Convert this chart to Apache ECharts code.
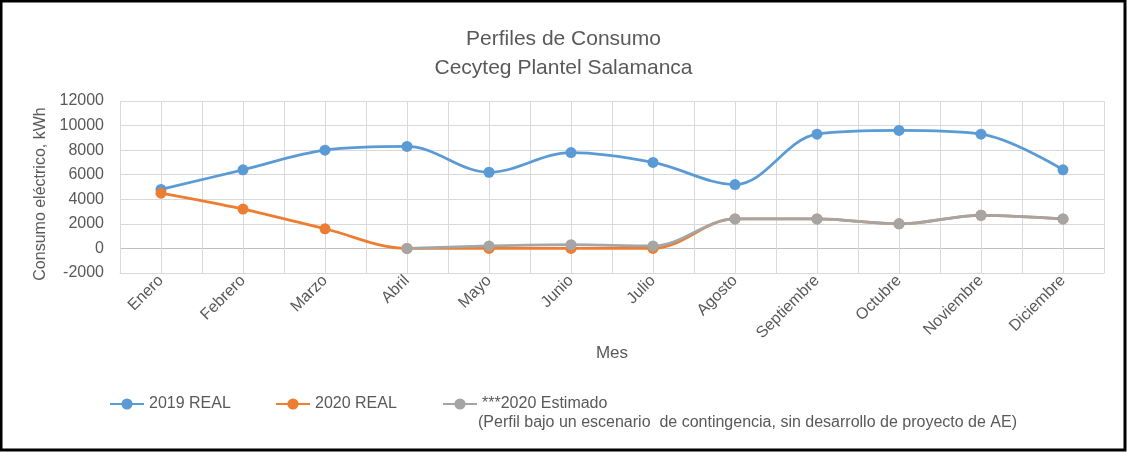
<!DOCTYPE html>
<html>
<head>
<meta charset="utf-8">
<script src="https://cdn.jsdelivr.net/npm/echarts@6/dist/echarts.min.js"></script>
<style>
  html, body { margin: 0; padding: 0; background: #fff; }
  #chart { width: 1127px; height: 452px; }
</style>
</head>
<body>
<div id="chart"></div>
<script>
var meses = ['Enero', 'Febrero', 'Marzo', 'Abril', 'Mayo', 'Junio', 'Julio', 'Agosto',
    'Septiembre', 'Octubre', 'Noviembre', 'Diciembre'];
var real2019 = [4800, 6400, 8000, 8300, 6200, 7800, 7000, 5200, 9300, 9600, 9300, 6400];
var real2020 = [4500, 3200, 1600, 0, 0, 0, 0, 2400, 2400, 2000, 2700, 2400];
var estimado2020 = [null, null, null, 0, 200, 300, 200, 2400, 2400, 2000, 2700, 2400];
var yTicks = { min: -2000, max: 12000, interval: 2000 };

var fuente = 'Liberation Sans';
var gris = '#595959';

// half-category grid lines (Excel draws lines at boundaries and at centres)
var halfCats = [];
for (var i = 0; i < meses.length * 2; i++) halfCats.push('');

var mkSerie = function(name, color, data) {
    return {
        name: name,
        type: 'line',
        smooth: 0.35,
        symbol: 'circle',
        symbolSize: 11,
        itemStyle: { color: color },
        lineStyle: { color: color, width: 2.75 },
        data: data
    };
};

var option = {
    animation: false,
    textStyle: { fontFamily: fuente },
    title: {
        left: 'center',
        top: 20,
        text: 'Perfiles de Consumo\nCecyteg Plantel Salamanca',
        textStyle: {
            fontFamily: fuente,
            fontSize: 21,
            fontWeight: 'normal',
            lineHeight: 29,
            color: gris
        }
    },
    grid: { left: 120, right: 23, top: 101, bottom: 179 },
    legend: [
        { data: ['2019 REAL'], left: 104, top: 391 },
        { data: ['2020 REAL'], left: 270, top: 391 },
        { data: ['***2020 Estimado'], left: 437, top: 391 }
    ].map(function(l) {
        l.itemWidth = 34;
        l.itemHeight = 14;
        l.itemGap = 8;
        l.textStyle = { fontFamily: fuente, fontSize: 16, color: gris };
        return l;
    }),
    graphic: [
        {
            type: 'text',
            left: 478,
            top: 415,
            style: {
                text: '(Perfil bajo un escenario  de contingencia, sin desarrollo de proyecto de AE)',
                font: '16px "' + fuente + '"',
                fill: gris
            }
        },
        {
            type: 'rect',
            shape: { x: 1, y: 1, width: 1124, height: 449 },
            style: { fill: 'none', stroke: '#000', lineWidth: 3 },
            silent: true
        }
    ],
    xAxis: [
        {
            type: 'category',
            data: meses,
            boundaryGap: true,
            name: 'Mes',
            nameLocation: 'middle',
            nameGap: 67,
            nameTextStyle: { fontFamily: fuente, fontSize: 17, color: gris },
            axisLine: { onZero: false, lineStyle: { color: '#d9d9d9', width: 1 } },
            axisTick: { show: false },
            splitLine: { show: false },
            axisLabel: { rotate: 45, fontSize: 16, color: gris, margin: 5, interval: 0 }
        },
        {
            type: 'category',
            data: halfCats,
            position: 'bottom',
            boundaryGap: true,
            axisLine: { show: false },
            axisTick: { show: false },
            axisLabel: { show: false },
            splitLine: { show: true, interval: 0, lineStyle: { color: '#d9d9d9', width: 1 } }
        }
    ],
    yAxis: {
        type: 'value',
        min: yTicks.min,
        max: yTicks.max,
        interval: yTicks.interval,
        name: 'Consumo eléctrico, kWh',
        nameLocation: 'middle',
        nameGap: 63,
        nameTextStyle: { fontFamily: fuente, fontSize: 16, color: gris, padding: [0, 14, 0, 0] },
        axisLine: { show: false },
        axisTick: { show: false },
        axisLabel: {
            fontSize: 16,
            color: gris,
            margin: 16,
            formatter: function(v) { return String(v); }
        },
        splitLine: {
            lineStyle: {
                width: 1,
                color: ['#d9d9d9', '#bfbfbf', '#d9d9d9', '#d9d9d9', '#d9d9d9', '#d9d9d9', '#d9d9d9', '#d9d9d9']
            }
        }
    },
    series: [
        mkSerie('2019 REAL', '#5b9bd5', real2019),
        mkSerie('2020 REAL', '#ed7d31', real2020),
        mkSerie('***2020 Estimado', '#a5a5a5', estimado2020)
    ]
};

var chart = echarts.init(document.getElementById('chart'));
chart.setOption(option);
</script>
</body>
</html>
